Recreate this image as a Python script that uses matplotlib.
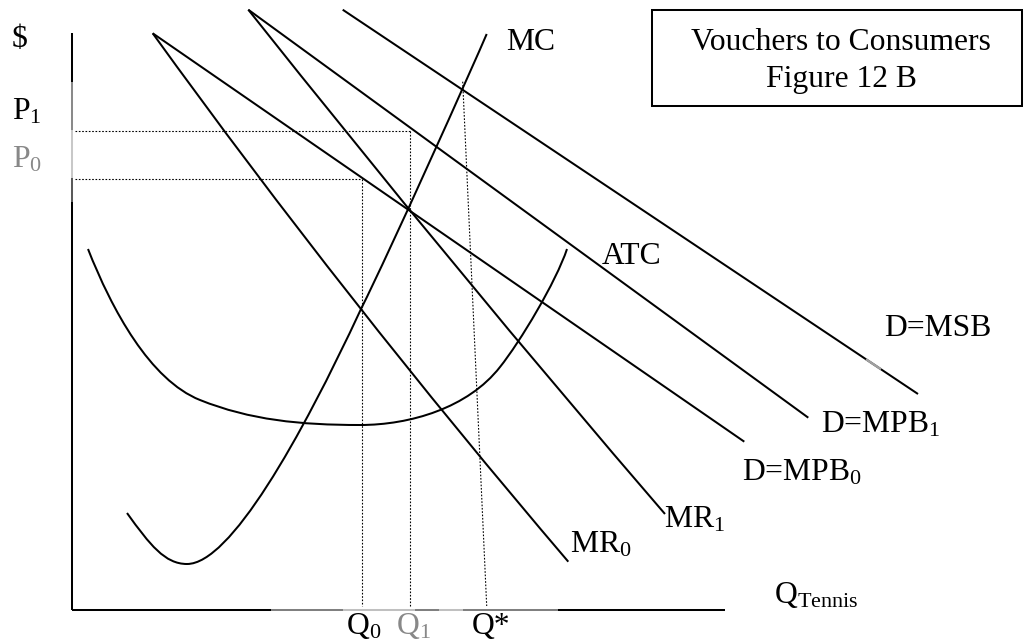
import matplotlib
matplotlib.use('Agg')
import matplotlib.pyplot as plt
from matplotlib.path import Path
from matplotlib.patches import PathPatch, Rectangle

plt.rcParams['font.family'] = ['Liberation Serif', 'DejaVu Serif']
plt.rcParams['mathtext.default'] = 'regular'

W, H = 1032, 641

# ---- data (figure-pixel coordinates) ----
# straight demand / benefit curves
mpb0_x = [152.7, 744.3]; mpb0_y = [33.3, 441.7]
mpb1_x = [248.3, 808.3]; mpb1_y = [9.7, 417.7]
msb_x = [342.7, 918.0];  msb_y = [9.7, 394.0]
msb_faded_x = [866.0, 881.0]   # short faded stretch of the MSB line

# marginal revenue curves (quadratic bezier: start, control, end)
mr0_x = [152.7, 345.0, 568.3]; mr0_y = [33.3, 300.0, 561.7]
mr1_x = [248.3, 458.0, 665.0]; mr1_y = [9.7, 274.0, 514.0]

# MC curve (cubic bezier vertices)
mc_x = [127, 150, 165, 187, 230, 300, 361, 391, 471.7, 486.7]
mc_y = [513, 545, 564, 564, 564, 440, 309, 249, 69, 34]

# ATC curve (cubic bezier vertices)
atc_x = [88, 112, 150, 200, 250, 300, 360, 410, 468, 500, 520, 556, 567]
atc_y = [249, 310, 380, 400, 420, 425, 425, 425, 408, 367, 342, 282, 249]

# price / quantity guide levels
p1_level = 130.5
p0_level = 178.5
q0_level = 361.5
q1_level = 409.5
qstar_x = [462.7, 486.7]; qstar_y = [81.7, 606.0]

# axes segments (breakpoints and shades)
yaxis_breaks = [33, 82, 130, 178, 202, 610]
yaxis_cols = ['black', '#8a8a8a', '#c8c8c8', '#5a5a5a', 'black']
xaxis_breaks = [72, 271, 343, 415, 439, 463, 558, 725]
xaxis_cols = ['black', '#808080', '#c0c0c0', '#808080', '#c0c0c0', '#808080', 'black']
axis_x = 72
axis_y = 610

# labels: (text, x, baseline y, colour)
labels = [
    ('$', 12, 47, 'black'),
    ('P$_1$', 12, 120, 'black'),
    ('P$_0$', 12, 168, '#888888'),
    ('MC', 506, 49.5, 'black'),
    ('ATC', 602, 264.5, 'black'),
    ('D=MSB', 884, 336.5, 'black'),
    ('D=MPB$_1$', 821, 432.5, 'black'),
    ('D=MPB$_0$', 742, 480.5, 'black'),
    ('MR$_1$', 664, 527.5, 'black'),
    ('MR$_0$', 570, 552.5, 'black'),
    ('Q$_{Tennis}$', 774, 602.5, 'black'),
    ('Q$_0$', 346, 634, 'black'),
    ('Q$_1$', 396.5, 634, '#888888'),
    ('Q*', 472, 634, 'black'),
]
title_lines = ['Vouchers to Consumers', 'Figure 12 B']
title_baselines = [50, 87]
title_cx = 841
box_x = [652, 1022]; box_y = [10, 106]

# ---- drawing ----
fig = plt.figure(figsize=(W / 100, H / 100), dpi=100)
ax = fig.add_axes([0, 0, 1, 1])
ax.set_xlim(0, W)
ax.set_ylim(H, 0)
ax.axis('off')

LW = 1.45
FS = 22.8

# axes
for i, c in enumerate(yaxis_cols):
    ax.plot([axis_x, axis_x], [yaxis_breaks[i], yaxis_breaks[i + 1]], color=c,
            lw=LW, solid_capstyle='butt')
for i, c in enumerate(xaxis_cols):
    ax.plot([xaxis_breaks[i], xaxis_breaks[i + 1]], [axis_y, axis_y], color=c,
            lw=LW, solid_capstyle='butt')

# straight lines
for xs, ys in [(mpb0_x, mpb0_y), (mpb1_x, mpb1_y), (msb_x, msb_y)]:
    ax.plot(xs, ys, color='black', lw=LW, solid_capstyle='butt')

# faded stretch of MSB (lies on the MSB line)
slope = (msb_y[1] - msb_y[0]) / (msb_x[1] - msb_x[0])
fy = [msb_y[0] + slope * (x - msb_x[0]) for x in msb_faded_x]
ax.plot(msb_faded_x, fy, color='#a0a0a0', lw=LW + 0.3, solid_capstyle='butt', zorder=3)

# quadratic curves
for xs, ys in [(mr0_x, mr0_y), (mr1_x, mr1_y)]:
    verts = list(zip(xs, ys))
    codes = [Path.MOVETO, Path.CURVE3, Path.CURVE3]
    ax.add_patch(PathPatch(Path(verts, codes), facecolor='none',
                           edgecolor='black', lw=LW))

# cubic curves
for xs, ys in [(mc_x, mc_y), (atc_x, atc_y)]:
    verts = list(zip(xs, ys))
    codes = [Path.MOVETO] + [Path.CURVE4] * (len(verts) - 1)
    ax.add_patch(PathPatch(Path(verts, codes), facecolor='none',
                           edgecolor='black', lw=LW))

# dotted guides
dot = dict(color='black', lw=0.8, linestyle=(0, (1.5, 1.5)), zorder=1)
ax.plot([75, q1_level], [p1_level, p1_level], **dot)
ax.plot([75, q0_level], [p0_level, p0_level], **dot)
ax.plot([q0_level, q0_level], [p0_level, 606], **dot)
ax.plot([q1_level, q1_level], [p1_level, 606], **dot)
ax.plot(qstar_x, qstar_y, **dot)

# labels
for txt, x, y, c in labels:
    ax.text(x, y, txt, fontsize=FS, color=c, ha='left', va='baseline')

# title box
ax.add_patch(Rectangle((box_x[0], box_y[0]), box_x[1] - box_x[0], box_y[1] - box_y[0],
                       facecolor='none', edgecolor='black', lw=LW))
for line, yb in zip(title_lines, title_baselines):
    ax.text(title_cx, yb, line, fontsize=FS, ha='center', va='baseline')

fig.savefig('out.png', dpi=100)
